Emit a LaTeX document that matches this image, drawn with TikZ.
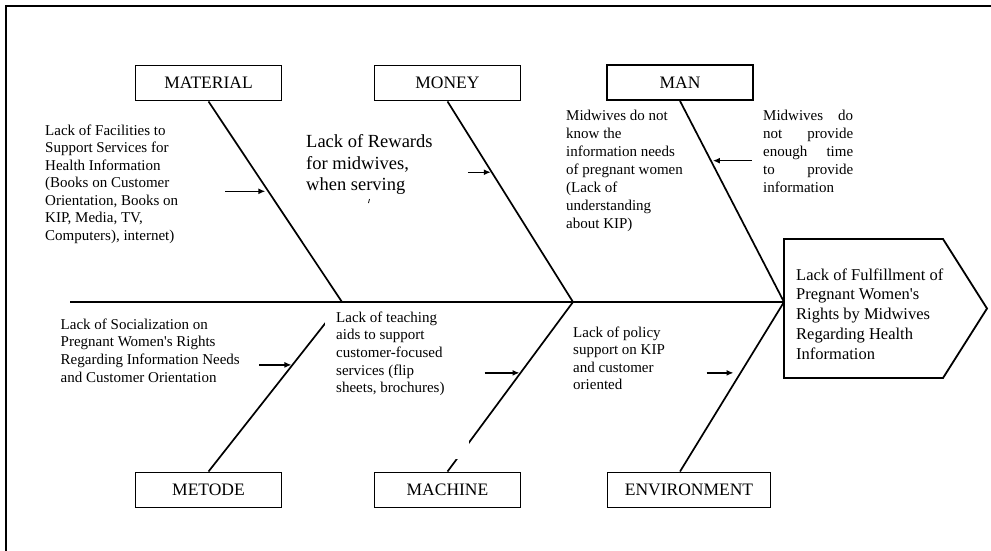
\documentclass[tikz,border=0pt]{standalone}
\usepackage{fontspec}
\setmainfont{Liberation Serif}[Ligatures=TeXOff]
\usetikzlibrary{arrows.meta,calc}

\begin{document}
\begin{tikzpicture}[x=1pt,y=-1pt,
  cat/.style={draw,line width=1.9pt,minimum width=146pt,minimum height=35pt,
    inner sep=0pt,font=\fontsize{17.5}{20}\selectfont},
  bone/.style={line width=1.7pt},
  cause/.style={anchor=north west,inner sep=0pt,align=left,
    font=\fontsize{15}{17.5}\selectfont},
  arr/.style={line width=1.4pt,-{Latex[length=7pt,width=6pt]}},
]
\useasboundingbox (0,0) rectangle (991,551);

% page frame (top and left edges)
\draw[line width=2pt] (991,6) -- (6,6) -- (6,551);

% category boxes
\node[cat] (mat) at (208.5,83) {MATERIAL};
\node[cat] (mon) at (447.5,83) {MONEY};
\node[cat] (man) at (680,82.5) {MAN};
\node[cat] (met) at (208.5,490) {METODE};
\node[cat] (mac) at (447.5,490) {MACHINE};
\node[cat,minimum width=163pt] (env) at (689,490) {ENVIRONMENT};

% spine and joints
\coordinate (tail) at (70,302);
\coordinate (j1) at (342,302);
\coordinate (j2) at (573,302);
\coordinate (j3) at (784,302);
\coordinate (eb) at ([xshift=-9pt]env.north);

% head (effect)
\draw[line width=1.8pt] (784,239) -- (943,239) -- (987,308.5) -- (943,378) -- (784,378) -- cycle;
\node[cause,font=\fontsize{16.5}{19.8}\selectfont] (head) at (796,266.1)
  {\strut Lack of Fulfillment of\\Pregnant Women's\\Rights by Midwives\\Regarding Health\\Information};

% bones
\draw[bone] (tail) -- (j3);
\draw[bone] (mat.south) -- (j1);
\draw[bone] (mon.south) -- (j2);
\draw[bone] (man.south) -- (j3);
\draw[bone] (met.north) -- (j1);
\draw[bone] (mac.north) -- (j2);
\draw[bone] (eb) -- (j3);

% white text panel over the lower bones
\fill[white] (325,302.5) rectangle (469,459);

% causes
\node[cause] (c1) at (45,122.75)
  {\strut Lack of Facilities to\\Support Services for\\Health Information\\(Books on Customer\\Orientation, Books on\\KIP, Media, TV,\\Computers), internet)};
\node[cause,font=\fontsize{18.5}{21.7}\selectfont] (c2) at (306,132.1)
  {\strut Lack of Rewards\\for midwives,\\when serving};
\draw[line width=0.8pt] (369.5,199) -- (368.5,203);
\node[cause,font=\fontsize{15}{18}\selectfont] (c3) at (566,107.4)
  {\strut Midwives do not\\know the\\information needs\\of pregnant women\\(Lack of\\understanding\\about KIP)};
\node[cause,font=\fontsize{15}{18}\selectfont] (c4) at (763,107.4)
  {\strut\makebox[90pt][s]{Midwives do}\\\makebox[90pt][s]{not provide}\\\makebox[90pt][s]{enough time}\\\makebox[90pt][s]{to provide}\\information};
\node[cause,font=\fontsize{15}{17.7}\selectfont] (c5) at (60.5,316.6)
  {\strut Lack of Socialization on\\Pregnant Women's Rights\\Regarding Information Needs\\and Customer Orientation};
\node[cause,font=\fontsize{15}{17.7}\selectfont] (c6) at (336,309.6)
  {\strut Lack of teaching\\aids to support\\customer-focused\\services (flip\\sheets, brochures)};
\node[cause] (c7) at (573,324.75)
  {\strut Lack of policy\\support on KIP\\and customer\\oriented};

% arrows onto the bones
\coordinate (p1) at ($(mat.south)!0.448!(j1)$);
\coordinate (p2) at ($(mon.south)!0.353!(j2)$);
\coordinate (p3) at ($(man.south)!0.297!(j3)$);
\coordinate (p4) at ($(met.north)!0.629!(j1)$);
\coordinate (p5) at ($(mac.north)!0.582!(j2)$);
\coordinate (p6) at ($(eb)!0.582!(j3)$);
\draw[arr] ([xshift=-43pt]p1) -- ([xshift=-3pt]p1);
\draw[arr] ([xshift=-24pt]p2) -- ([xshift=-1pt]p2);
\draw[arr] ([xshift=41pt]p3) -- ([xshift=2pt]p3);
\draw[arr] ([xshift=-33pt]p4) -- ([xshift=-1pt]p4);
\draw[arr] ([xshift=-36pt]p5) -- ([xshift=-1pt]p5);
\draw[arr] ([xshift=-34pt]p6) -- ([xshift=-7pt]p6);
\end{tikzpicture}
\end{document}
